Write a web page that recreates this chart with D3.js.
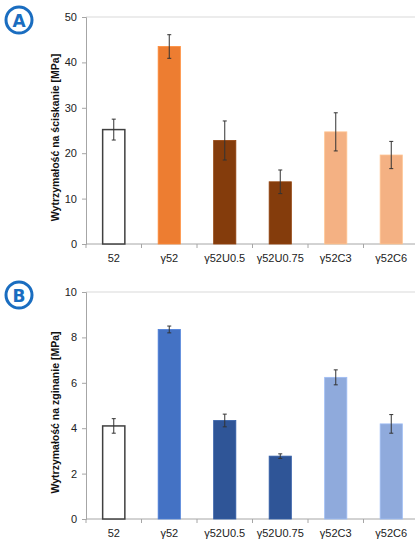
<html>
<head>
<meta charset="utf-8">
<script src="https://cdn.jsdelivr.net/npm/d3@7"></script>
<style>
  body { margin: 0; background: #fff; }
  text { font-family: "Liberation Sans", Arial, sans-serif; }
</style>
</head>
<body>
<svg width="415" height="539"></svg>
<script>
// kategorie wspólne dla obu wykresów
var categories = ['52', 'γ52', 'γ52U0.5', 'γ52U0.75', 'γ52C3', 'γ52C6']

// A - ściskanie
var compValues = [25.2, 43.5, 22.8, 13.7, 24.7, 19.6]
var compErrors = [2.3, 2.6, 4.3, 2.6, 4.2, 3.0]
var compColors = ['#ffffff', '#ed7d31', '#843c0c', '#843c0c', '#f4b183', '#f4b183']
var compTicks = [0, 10, 20, 30, 40, 50]

// B - zginanie
var bendValues = [4.1, 8.35, 4.34, 2.77, 6.24, 4.19]
var bendErrors = [0.32, 0.15, 0.28, 0.1, 0.33, 0.41]
var bendColors = ['#ffffff', '#4472c4', '#2f5597', '#2f5597', '#8faadc', '#8faadc']
var bendTicks = [0, 2, 4, 6, 8, 10]

var svg = d3.select('svg')

function panel(top, letter, label, values, errors, colors, ticks) {
    var left = 86, right = 419, h = 227
    var g = svg.append('g').attr('transform', 'translate(0,' + top + ')')

    var x = d3.scaleBand().domain(categories).range([left, right]).paddingInner(0.6).paddingOuter(0.3)
    var xb = d3.scaleBand().domain(categories).range([left, right])
    var y = d3.scaleLinear().domain([0, ticks[ticks.length - 1]]).range([h, 0])

    // górna linia
    g.append('line').attr('x1', left).attr('x2', right).attr('y1', 0).attr('y2', 0)
        .attr('stroke', '#d9d9d9').attr('stroke-width', 1)

    // oś Y
    var ya = g.append('g').attr('transform', 'translate(' + left + ',0)')
        .call(d3.axisLeft(y).tickValues(ticks).tickSize(4).tickPadding(5))
    ya.select('.domain').attr('stroke', '#a6a6a6')
    ya.selectAll('.tick line').attr('stroke', '#a6a6a6')
    ya.selectAll('text').attr('font-size', 11).attr('fill', '#222')
        .style('font-family', '"Liberation Sans", Arial, sans-serif')

    // oś X z kreskami między kategoriami
    g.append('line').attr('x1', left).attr('x2', right).attr('y1', h).attr('y2', h)
        .attr('stroke', '#a6a6a6')
    g.selectAll('.sep').data(categories).enter().append('line')
        .attr('x1', function(d){ return xb(d) }).attr('x2', function(d){ return xb(d) })
        .attr('y1', h).attr('y2', h + 4).attr('stroke', '#a6a6a6')
    g.selectAll('.xl').data(categories).enter().append('text')
        .attr('x', function(d){ return xb(d) + xb.bandwidth() / 2 })
        .attr('y', h + 18)
        .attr('text-anchor', 'middle').attr('font-size', 11).attr('fill', '#222')
        .text(function(d){ return d })

    // słupki
    g.selectAll('.bar').data(values).enter().append('rect')
        .attr('x', function(d, i){ return x(categories[i]) })
        .attr('width', x.bandwidth())
        .attr('y', function(d){ return y(d) })
        .attr('height', function(d){ return h - y(d) })
        .attr('fill', function(d, i){ return colors[i] })
        .attr('stroke', function(d, i){ return i == 0 ? '#404040' : d3.color(colors[i]).brighter(0.3) })
        .attr('stroke-width', function(d, i){ return i == 0 ? 1.5 : 0.8 })

    // słupki błędów
    values.forEach(function(v, i){
        var cx = x(categories[i]) + x.bandwidth() / 2
        var e = errors[i]
        g.append('line').attr('x1', cx).attr('x2', cx).attr('y1', y(v + e)).attr('y2', y(v - e))
            .attr('stroke', '#333').attr('stroke-width', 1)
        ;[v + e, v - e].forEach(function(w){
            g.append('line').attr('x1', cx - 2).attr('x2', cx + 2).attr('y1', y(w)).attr('y2', y(w))
                .attr('stroke', '#333').attr('stroke-width', 1)
        })
    })

    // opis osi Y
    g.append('text')
        .attr('transform', 'translate(59,' + (h / 2 + 7) + ') rotate(-90)')
        .attr('text-anchor', 'middle').attr('font-size', 10.5).attr('font-weight', 'bold')
        .attr('fill', '#111')
        .text(label)

    // znaczek A / B
    g.append('circle').attr('cx', 19).attr('cy', 3).attr('r', 13)
        .attr('fill', '#fff').attr('stroke', '#1a6dc0').attr('stroke-width', 3)
    g.append('text').attr('x', 19).attr('y', 9.5).attr('text-anchor', 'middle')
        .attr('font-size', 17).attr('font-weight', 'bold').attr('fill', '#1a6dc0')
        .style('font-family', '"DejaVu Sans", sans-serif')
        .text(letter)
}

panel(17, 'A', 'Wytrzymałość na ściskanie [MPa]', compValues, compErrors, compColors, compTicks)
panel(292, 'B', 'Wytrzymałość na zginanie [MPa]', bendValues, bendErrors, bendColors, bendTicks)
</script>
</body>
</html>
